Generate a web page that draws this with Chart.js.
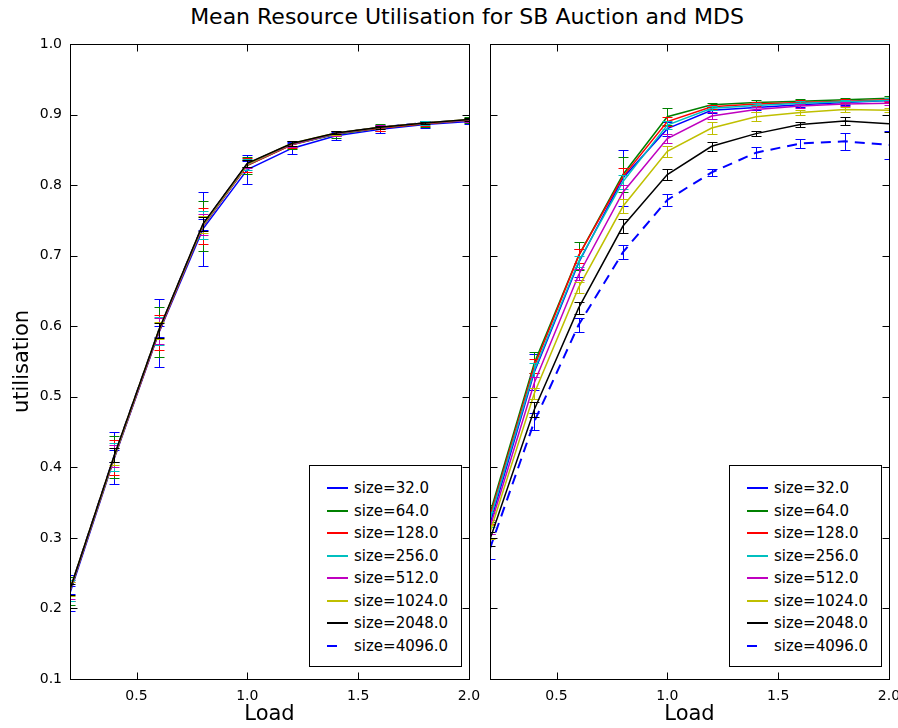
<!DOCTYPE html>
<html>
<head>
<meta charset="utf-8">
<title>Mean Resource Utilisation</title>
<script src="https://cdn.jsdelivr.net/npm/chart.js@4.4.0/dist/chart.umd.min.js"></script>
<style>
  body { margin: 0; background: #fff; font-family: "DejaVu Sans", sans-serif; }
  #wrap { position: relative; width: 898px; height: 728px; overflow: hidden; }
  #title { position: absolute; left: 36px; width: 862px; top: 4px; text-align: center; font-size: 22px; color: #000; }
  #leftChart { position: absolute; left: 0; top: 0; }
  #rightChart { position: absolute; left: 480px; top: 0; }
  .legend { position: absolute; top: 465px; width: 151px; height: 200px; border: 1px solid #000; background: #fff; }
  .legend .row { position: absolute; left: 0; width: 151px; height: 20px; font-size: 15px; line-height: 20px; color: #000; }
  .legend .swatch { position: absolute; left: 17px; top: 9px; width: 21px; height: 2px; }
  .legend .txt { position: absolute; left: 44px; top: 0; white-space: nowrap; }
</style>
</head>
<body>
<div id="wrap">
  <div id="title">Mean Resource Utilisation for SB Auction and MDS</div>
  <canvas id="leftChart" width="480" height="728"></canvas>
  <canvas id="rightChart" width="418" height="728"></canvas>
  <div class="legend" id="leftLegend" style="left:309px"></div>
  <div class="legend" id="rightLegend" style="left:729px"></div>
</div>
<script>
// Data
const loads = [0.2, 0.4, 0.6, 0.8, 1.0, 1.2, 1.4, 1.6, 1.8, 2.0];
const sizes = ['size=32.0', 'size=64.0', 'size=128.0', 'size=256.0', 'size=512.0', 'size=1024.0', 'size=2048.0', 'size=4096.0'];
const colours = ['#0000ff', '#008000', '#ff0000', '#00bfbf', '#bf00bf', '#bfbf00', '#000000', '#0000ff'];
const xTicks = [0.5, 1.0, 1.5, 2.0];
const yTicks = [0.1, 0.2, 0.3, 0.4, 0.5, 0.6, 0.7, 0.8, 0.9, 1.0];

// left panel (SB Auction)
const leftValues = [
  [0.222, 0.413, 0.590, 0.738, 0.822, 0.852, 0.870, 0.879, 0.886, 0.890],
  [0.225, 0.415, 0.592, 0.742, 0.828, 0.857, 0.872, 0.881, 0.887, 0.892],
  [0.225, 0.414, 0.591, 0.742, 0.828, 0.857, 0.873, 0.881, 0.887, 0.892],
  [0.226, 0.415, 0.593, 0.743, 0.829, 0.858, 0.873, 0.882, 0.888, 0.892],
  [0.226, 0.416, 0.593, 0.744, 0.830, 0.858, 0.873, 0.882, 0.888, 0.892],
  [0.227, 0.416, 0.594, 0.744, 0.830, 0.859, 0.874, 0.882, 0.888, 0.893],
  [0.227, 0.417, 0.594, 0.745, 0.831, 0.859, 0.874, 0.882, 0.888, 0.893],
  [0.226, 0.416, 0.593, 0.744, 0.830, 0.858, 0.873, 0.882, 0.888, 0.892]
];
const leftErrors = [
  [0.025, 0.037, 0.048, 0.052, 0.020, 0.008, 0.006, 0.005, 0.005, 0.004],
  [0.020, 0.030, 0.035, 0.035, 0.012, 0.006, 0.005, 0.005, 0.004, 0.004],
  [0.015, 0.025, 0.025, 0.025, 0.010, 0.005, 0.004, 0.004, 0.003, 0.003],
  [0.015, 0.020, 0.020, 0.020, 0.008, 0.004, 0.003, 0.003, 0.003, 0.003],
  [0.012, 0.015, 0.018, 0.015, 0.006, 0.004, 0.003, 0.003, 0.002, 0.002],
  [0.010, 0.012, 0.012, 0.012, 0.005, 0.003, 0.003, 0.002, 0.002, 0.002],
  [0.008, 0.010, 0.010, 0.010, 0.005, 0.003, 0.002, 0.002, 0.002, 0.002],
  [0.006, 0.008, 0.008, 0.008, 0.004, 0.003, 0.002, 0.002, 0.002, 0.002]
];

// right panel (MDS)
const rightValues = [
  [0.320, 0.535, 0.690, 0.810, 0.880, 0.906, 0.910, 0.914, 0.917, 0.920],
  [0.335, 0.548, 0.700, 0.815, 0.897, 0.914, 0.917, 0.919, 0.921, 0.923],
  [0.330, 0.543, 0.700, 0.812, 0.890, 0.911, 0.915, 0.917, 0.919, 0.921],
  [0.326, 0.538, 0.692, 0.805, 0.885, 0.909, 0.913, 0.916, 0.918, 0.920],
  [0.315, 0.520, 0.673, 0.790, 0.866, 0.898, 0.907, 0.912, 0.915, 0.916],
  [0.308, 0.505, 0.655, 0.770, 0.848, 0.881, 0.897, 0.903, 0.907, 0.906],
  [0.298, 0.482, 0.626, 0.742, 0.815, 0.855, 0.873, 0.886, 0.891, 0.887],
  [0.285, 0.465, 0.602, 0.705, 0.779, 0.818, 0.846, 0.859, 0.862, 0.857]
];
const rightErrors = [
  [0.015, 0.025, 0.020, 0.040, 0.010, 0.004, 0.004, 0.003, 0.003, 0.004],
  [0.012, 0.015, 0.020, 0.025, 0.012, 0.003, 0.003, 0.003, 0.003, 0.004],
  [0.010, 0.010, 0.010, 0.012, 0.006, 0.003, 0.003, 0.003, 0.003, 0.003],
  [0.010, 0.010, 0.008, 0.010, 0.006, 0.003, 0.003, 0.003, 0.003, 0.003],
  [0.010, 0.008, 0.008, 0.010, 0.007, 0.005, 0.004, 0.003, 0.003, 0.003],
  [0.010, 0.008, 0.008, 0.010, 0.008, 0.008, 0.006, 0.004, 0.003, 0.003],
  [0.010, 0.010, 0.008, 0.010, 0.008, 0.006, 0.004, 0.003, 0.006, 0.012],
  [0.015, 0.012, 0.010, 0.010, 0.008, 0.005, 0.008, 0.007, 0.012, 0.020]
];

const FONT = '"DejaVu Sans", sans-serif';
const TICK_LEN = 7;

// matplotlib-ish look: error bars per dataset, boxed frame, inward ticks on every side
const mplAxes = {
  id: 'mplAxes',
  afterDatasetDraw(chart, args, opts) {
    const errs = opts.errors[args.index];
    const ds = chart.data.datasets[args.index];
    const xs = chart.scales.x, ys = chart.scales.y;
    const a = chart.chartArea;
    const ctx = chart.ctx;
    ctx.save();
    ctx.beginPath();
    ctx.rect(a.left, a.top, a.right - a.left, a.bottom - a.top);
    ctx.clip();
    ctx.strokeStyle = ds.borderColor;
    ctx.lineWidth = 1;
    ds.data.forEach((p, i) => {
      const x = Math.round(xs.getPixelForValue(p.x)) + 0.5;
      const lo = Math.round(ys.getPixelForValue(p.y - errs[i])) + 0.5;
      const hi = Math.round(ys.getPixelForValue(p.y + errs[i])) + 0.5;
      ctx.beginPath();
      ctx.moveTo(x, lo); ctx.lineTo(x, hi);
      ctx.moveTo(x - 5, lo); ctx.lineTo(x + 5, lo);
      ctx.moveTo(x - 5, hi); ctx.lineTo(x + 5, hi);
      ctx.stroke();
    });
    ctx.restore();
  },
  afterDraw(chart) {
    const xs = chart.scales.x, ys = chart.scales.y;
    const a = chart.chartArea;
    const ctx = chart.ctx;
    const l = Math.round(a.left) + 0.5, r = Math.round(a.right) + 0.5;
    const t = Math.round(a.top) + 0.5, b = Math.round(a.bottom) + 0.5;
    ctx.save();
    ctx.strokeStyle = '#000';
    ctx.lineWidth = 1;
    ctx.strokeRect(l, t, r - l, b - t);
    ctx.beginPath();
    xTicks.forEach(v => {
      const x = Math.round(xs.getPixelForValue(v)) + 0.5;
      ctx.moveTo(x, b); ctx.lineTo(x, b - TICK_LEN);
      ctx.moveTo(x, t); ctx.lineTo(x, t + TICK_LEN);
    });
    yTicks.forEach(v => {
      const y = Math.round(ys.getPixelForValue(v)) + 0.5;
      ctx.moveTo(l, y); ctx.lineTo(l + TICK_LEN, y);
      ctx.moveTo(r, y); ctx.lineTo(r - TICK_LEN, y);
    });
    ctx.stroke();
    ctx.restore();
  }
};

function buildDatasets(values) {
  return values.map((row, i) => ({
    label: sizes[i],
    data: row.map((v, j) => ({ x: loads[j], y: v })),
    borderColor: colours[i],
    backgroundColor: colours[i],
    borderWidth: i === 7 ? 2 : 1.5,
    borderDash: i === 7 ? [10, 7] : [],
    pointRadius: 0,
    tension: 0,
    // black (2048) ends up on top, dashed 4096 underneath everything
    order: i === 7 ? 8 : 7 - i
  }));
}

function makeChart(canvasId, values, errors, isLeft) {
  return new Chart(document.getElementById(canvasId), {
    type: 'line',
    data: { datasets: buildDatasets(values) },
    options: {
      responsive: false,
      animation: false,
      layout: { padding: { top: 44, right: isLeft ? 11 : 9, bottom: 0, left: 0 } },
      plugins: {
        legend: { display: false },
        tooltip: { enabled: false },
        mplAxes: { errors: errors }
      },
      scales: {
        x: {
          type: 'linear',
          min: 0.2,
          max: 2.0,
          afterBuildTicks: s => { s.ticks = xTicks.map(v => ({ value: v })); },
          afterFit: s => { s.height = 49; s.paddingLeft = 0; s.paddingRight = 0; },
          grid: { display: false },
          border: { display: false },
          ticks: { color: '#000', font: { family: FONT, size: 14 }, padding: 1, maxRotation: 0, autoSkip: false,
                   callback: v => v.toFixed(1) },
          title: { display: true, text: 'Load', color: '#000', font: { family: FONT, size: 21 },
                   padding: { top: 0, bottom: 1 } }
        },
        y: {
          min: 0.1,
          max: 1.0,
          afterBuildTicks: s => { s.ticks = yTicks.map(v => ({ value: v })); },
          afterFit: s => { s.width = isLeft ? 70 : 10; s.paddingTop = 0; s.paddingBottom = 0; },
          grid: { display: false },
          border: { display: false },
          ticks: { display: isLeft, color: '#000', font: { family: FONT, size: 14 }, padding: 0, autoSkip: false,
                   callback: v => v.toFixed(1) },
          title: { display: isLeft, text: 'utilisation', color: '#000', font: { family: FONT, size: 21 },
                   padding: { top: 10, bottom: 0 } }
        }
      }
    },
    plugins: [mplAxes]
  });
}

function buildLegend(id) {
  const box = document.getElementById(id);
  sizes.forEach((label, i) => {
    const row = document.createElement('div');
    row.className = 'row';
    row.style.top = (12 + i * 22.5) + 'px';
    const sw = document.createElement('div');
    sw.className = 'swatch';
    sw.style.background = colours[i];
    if (i === 7) sw.style.width = '10px';
    const txt = document.createElement('span');
    txt.className = 'txt';
    txt.textContent = label;
    row.appendChild(sw);
    row.appendChild(txt);
    box.appendChild(row);
  });
}

makeChart('leftChart', leftValues, leftErrors, true);
makeChart('rightChart', rightValues, rightErrors, false);
buildLegend('leftLegend');
buildLegend('rightLegend');
</script>
</body>
</html>
